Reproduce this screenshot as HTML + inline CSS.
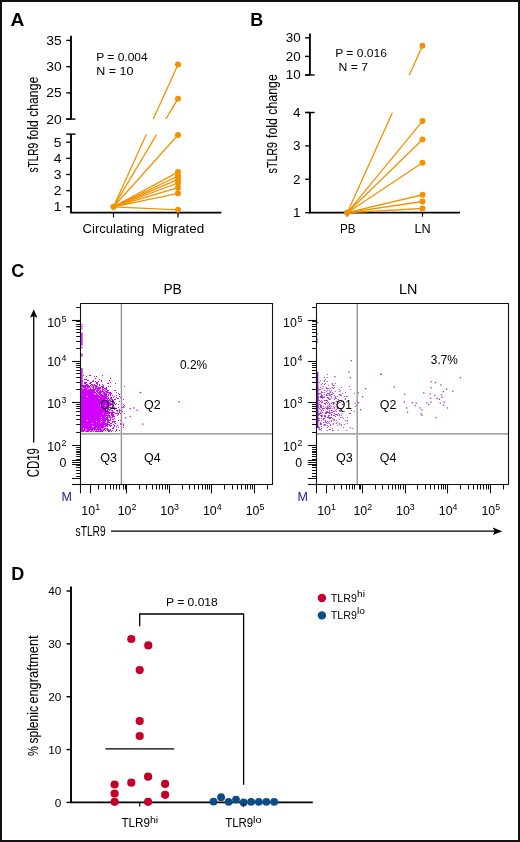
<!DOCTYPE html>
<html><head><meta charset="utf-8"><style>
html,body{margin:0;padding:0;background:#fff;}
body{width:520px;height:842px;overflow:hidden;position:relative;}
.frame{position:absolute;left:0;top:0;width:516px;height:838px;border:2px solid #111;}
svg{position:absolute;left:0;top:0;font-family:"Liberation Sans", sans-serif;will-change:transform;}
</style></head><body>
<svg width="520" height="842" viewBox="0 0 520 842">
<text x="10.5" y="26.2" font-size="19.2" text-anchor="start" font-weight="bold" fill="#000">A</text>
<line x1="71.00" y1="35.80" x2="71.00" y2="119.10" stroke="#000" stroke-width="1.9"/>
<line x1="66.30" y1="119.10" x2="75.50" y2="119.10" stroke="#000" stroke-width="1.4"/>
<line x1="66.30" y1="40.40" x2="71.00" y2="40.40" stroke="#000" stroke-width="1.4"/>
<text x="61.6" y="44.8" font-size="12.6" text-anchor="end" font-weight="normal" fill="#000" textLength="15.41" lengthAdjust="spacingAndGlyphs">35</text>
<line x1="66.30" y1="66.70" x2="71.00" y2="66.70" stroke="#000" stroke-width="1.4"/>
<text x="61.6" y="71.10000000000001" font-size="12.6" text-anchor="end" font-weight="normal" fill="#000" textLength="15.41" lengthAdjust="spacingAndGlyphs">30</text>
<line x1="66.30" y1="92.90" x2="71.00" y2="92.90" stroke="#000" stroke-width="1.4"/>
<text x="61.6" y="97.30000000000001" font-size="12.6" text-anchor="end" font-weight="normal" fill="#000" textLength="15.41" lengthAdjust="spacingAndGlyphs">25</text>
<line x1="66.30" y1="119.10" x2="71.00" y2="119.10" stroke="#000" stroke-width="1.4"/>
<text x="61.6" y="123.5" font-size="12.6" text-anchor="end" font-weight="normal" fill="#000" textLength="15.41" lengthAdjust="spacingAndGlyphs">20</text>
<line x1="71.00" y1="134.10" x2="71.00" y2="212.70" stroke="#000" stroke-width="1.9"/>
<line x1="66.30" y1="134.10" x2="75.50" y2="134.10" stroke="#000" stroke-width="1.4"/>
<line x1="66.30" y1="142.20" x2="71.00" y2="142.20" stroke="#000" stroke-width="1.4"/>
<text x="61.6" y="146.60000000000002" font-size="12.6" text-anchor="end" font-weight="normal" fill="#000" textLength="7.71" lengthAdjust="spacingAndGlyphs">5</text>
<line x1="66.30" y1="158.35" x2="71.00" y2="158.35" stroke="#000" stroke-width="1.4"/>
<text x="61.6" y="162.75000000000003" font-size="12.6" text-anchor="end" font-weight="normal" fill="#000" textLength="7.71" lengthAdjust="spacingAndGlyphs">4</text>
<line x1="66.30" y1="174.50" x2="71.00" y2="174.50" stroke="#000" stroke-width="1.4"/>
<text x="61.6" y="178.9" font-size="12.6" text-anchor="end" font-weight="normal" fill="#000" textLength="7.71" lengthAdjust="spacingAndGlyphs">3</text>
<line x1="66.30" y1="190.65" x2="71.00" y2="190.65" stroke="#000" stroke-width="1.4"/>
<text x="61.6" y="195.05" font-size="12.6" text-anchor="end" font-weight="normal" fill="#000" textLength="7.71" lengthAdjust="spacingAndGlyphs">2</text>
<line x1="66.30" y1="206.80" x2="71.00" y2="206.80" stroke="#000" stroke-width="1.4"/>
<text x="61.6" y="211.20000000000002" font-size="12.6" text-anchor="end" font-weight="normal" fill="#000" textLength="7.71" lengthAdjust="spacingAndGlyphs">1</text>
<line x1="70.10" y1="212.70" x2="221.30" y2="212.70" stroke="#000" stroke-width="1.8"/>
<line x1="113.50" y1="212.70" x2="113.50" y2="217.40" stroke="#000" stroke-width="1.2"/>
<line x1="178.00" y1="212.70" x2="178.00" y2="217.40" stroke="#000" stroke-width="1.2"/>
<text x="96.2" y="60.8" font-size="11.6" text-anchor="start" font-weight="normal" fill="#000" textLength="51.5" lengthAdjust="spacingAndGlyphs">P = 0.004</text>
<text x="96.2" y="75.1" font-size="11.6" text-anchor="start" font-weight="normal" fill="#000" textLength="37.2" lengthAdjust="spacingAndGlyphs">N = 10</text>
<text x="82.6" y="233.2" font-size="12.4" text-anchor="start" font-weight="normal" fill="#000" textLength="61.6" lengthAdjust="spacingAndGlyphs">Circulating</text>
<text x="152.0" y="233.2" font-size="12.4" text-anchor="start" font-weight="normal" fill="#000" textLength="52.2" lengthAdjust="spacingAndGlyphs">Migrated</text>
<text transform="translate(38.0,172.6) rotate(-90)" font-size="15" stroke="#000" stroke-width="0.1" textLength="29.8" lengthAdjust="spacingAndGlyphs">sTLR9</text>
<text transform="translate(38.0,139.8) rotate(-90)" font-size="15" stroke="#000" stroke-width="0.1" textLength="63.0" lengthAdjust="spacingAndGlyphs">fold change</text>
<clipPath id="cA"><rect x="60" y="30" width="170" height="89.1"/><rect x="60" y="134.4" width="170" height="90"/></clipPath>
<g clip-path="url(#cA)">
<line x1="113.50" y1="206.80" x2="178.00" y2="64.50" stroke="#F29200" stroke-width="1.3"/>
<line x1="113.50" y1="206.80" x2="178.00" y2="98.70" stroke="#F29200" stroke-width="1.3"/>
<line x1="113.50" y1="206.80" x2="178.00" y2="135.00" stroke="#F29200" stroke-width="1.3"/>
<line x1="113.50" y1="206.80" x2="178.00" y2="172.10" stroke="#F29200" stroke-width="1.3"/>
<line x1="113.50" y1="206.80" x2="178.00" y2="176.00" stroke="#F29200" stroke-width="1.3"/>
<line x1="113.50" y1="206.80" x2="178.00" y2="179.30" stroke="#F29200" stroke-width="1.3"/>
<line x1="113.50" y1="206.80" x2="178.00" y2="183.00" stroke="#F29200" stroke-width="1.3"/>
<line x1="113.50" y1="206.80" x2="178.00" y2="187.70" stroke="#F29200" stroke-width="1.3"/>
<line x1="113.50" y1="206.80" x2="178.00" y2="193.30" stroke="#F29200" stroke-width="1.3"/>
<line x1="113.50" y1="206.80" x2="178.00" y2="209.80" stroke="#F29200" stroke-width="1.3"/>
</g>
<circle cx="178.00" cy="64.50" r="3" fill="#F29200"/>
<circle cx="178.00" cy="98.70" r="3" fill="#F29200"/>
<circle cx="178.00" cy="135.00" r="3" fill="#F29200"/>
<circle cx="178.00" cy="172.10" r="3" fill="#F29200"/>
<circle cx="178.00" cy="176.00" r="3" fill="#F29200"/>
<circle cx="178.00" cy="179.30" r="3" fill="#F29200"/>
<circle cx="178.00" cy="183.00" r="3" fill="#F29200"/>
<circle cx="178.00" cy="187.70" r="3" fill="#F29200"/>
<circle cx="178.00" cy="193.30" r="3" fill="#F29200"/>
<circle cx="178.00" cy="209.80" r="3" fill="#F29200"/>
<circle cx="113.50" cy="206.80" r="3.1" fill="#F29200"/>
<text x="250.3" y="26.2" font-size="18" text-anchor="start" font-weight="bold" fill="#000">B</text>
<line x1="309.90" y1="33.50" x2="309.90" y2="75.00" stroke="#000" stroke-width="1.9"/>
<line x1="305.10" y1="75.00" x2="314.60" y2="75.00" stroke="#000" stroke-width="1.4"/>
<line x1="305.10" y1="37.80" x2="309.90" y2="37.80" stroke="#000" stroke-width="1.4"/>
<text x="300.6" y="42.099999999999994" font-size="12.2" text-anchor="end" font-weight="normal" fill="#000" textLength="14.92" lengthAdjust="spacingAndGlyphs">30</text>
<line x1="305.10" y1="56.40" x2="309.90" y2="56.40" stroke="#000" stroke-width="1.4"/>
<text x="300.6" y="60.699999999999996" font-size="12.2" text-anchor="end" font-weight="normal" fill="#000" textLength="14.92" lengthAdjust="spacingAndGlyphs">20</text>
<line x1="305.10" y1="75.00" x2="309.90" y2="75.00" stroke="#000" stroke-width="1.4"/>
<text x="300.6" y="79.3" font-size="12.2" text-anchor="end" font-weight="normal" fill="#000" textLength="14.92" lengthAdjust="spacingAndGlyphs">10</text>
<line x1="309.90" y1="112.50" x2="309.90" y2="212.70" stroke="#000" stroke-width="1.9"/>
<line x1="305.30" y1="112.50" x2="314.60" y2="112.50" stroke="#000" stroke-width="1.4"/>
<line x1="305.30" y1="112.50" x2="309.90" y2="112.50" stroke="#000" stroke-width="1.4"/>
<text x="300.6" y="116.8" font-size="12.2" text-anchor="end" font-weight="normal" fill="#000" textLength="7.46" lengthAdjust="spacingAndGlyphs">4</text>
<line x1="305.30" y1="145.90" x2="309.90" y2="145.90" stroke="#000" stroke-width="1.4"/>
<text x="300.6" y="150.2" font-size="12.2" text-anchor="end" font-weight="normal" fill="#000" textLength="7.46" lengthAdjust="spacingAndGlyphs">3</text>
<line x1="305.30" y1="179.30" x2="309.90" y2="179.30" stroke="#000" stroke-width="1.4"/>
<text x="300.6" y="183.6" font-size="12.2" text-anchor="end" font-weight="normal" fill="#000" textLength="7.46" lengthAdjust="spacingAndGlyphs">2</text>
<line x1="305.30" y1="212.70" x2="309.90" y2="212.70" stroke="#000" stroke-width="1.4"/>
<text x="300.6" y="217.0" font-size="12.2" text-anchor="end" font-weight="normal" fill="#000" textLength="7.46" lengthAdjust="spacingAndGlyphs">1</text>
<line x1="309.00" y1="212.70" x2="460.00" y2="212.70" stroke="#000" stroke-width="1.8"/>
<line x1="347.30" y1="212.70" x2="347.30" y2="216.60" stroke="#000" stroke-width="1.2"/>
<line x1="422.50" y1="212.70" x2="422.50" y2="216.60" stroke="#000" stroke-width="1.2"/>
<text x="335.2" y="56.5" font-size="11.6" text-anchor="start" font-weight="normal" fill="#000" textLength="51.8" lengthAdjust="spacingAndGlyphs">P = 0.016</text>
<text x="338.6" y="71.2" font-size="11.6" text-anchor="start" font-weight="normal" fill="#000" textLength="29.5" lengthAdjust="spacingAndGlyphs">N = 7</text>
<text x="340.0" y="232.8" font-size="12.4" text-anchor="start" font-weight="normal" fill="#000" textLength="15.6" lengthAdjust="spacingAndGlyphs">PB</text>
<text x="414.4" y="232.8" font-size="12.4" text-anchor="start" font-weight="normal" fill="#000" textLength="16.2" lengthAdjust="spacingAndGlyphs">LN</text>
<text transform="translate(277.0,173.4) rotate(-90)" font-size="15" stroke="#000" stroke-width="0.1" textLength="31.4" lengthAdjust="spacingAndGlyphs">sTLR9</text>
<text transform="translate(277.0,138.0) rotate(-90)" font-size="15" stroke="#000" stroke-width="0.1" textLength="63.8" lengthAdjust="spacingAndGlyphs">fold change</text>
<clipPath id="cB"><rect x="300" y="30" width="170" height="45"/><rect x="300" y="112.8" width="170" height="110"/></clipPath>
<g clip-path="url(#cB)">
<line x1="347.30" y1="212.70" x2="422.50" y2="45.70" stroke="#F29200" stroke-width="1.3"/>
<line x1="347.30" y1="212.70" x2="422.50" y2="121.10" stroke="#F29200" stroke-width="1.3"/>
<line x1="347.30" y1="212.70" x2="422.50" y2="139.50" stroke="#F29200" stroke-width="1.3"/>
<line x1="347.30" y1="212.70" x2="422.50" y2="162.75" stroke="#F29200" stroke-width="1.3"/>
<line x1="347.30" y1="212.70" x2="422.50" y2="194.75" stroke="#F29200" stroke-width="1.3"/>
<line x1="347.30" y1="212.70" x2="422.50" y2="201.50" stroke="#F29200" stroke-width="1.3"/>
<line x1="347.30" y1="212.70" x2="422.50" y2="208.50" stroke="#F29200" stroke-width="1.3"/>
</g>
<circle cx="422.50" cy="45.70" r="3" fill="#F29200"/>
<circle cx="422.50" cy="121.10" r="3" fill="#F29200"/>
<circle cx="422.50" cy="139.50" r="3" fill="#F29200"/>
<circle cx="422.50" cy="162.75" r="3" fill="#F29200"/>
<circle cx="422.50" cy="194.75" r="3" fill="#F29200"/>
<circle cx="422.50" cy="201.50" r="3" fill="#F29200"/>
<circle cx="422.50" cy="208.50" r="3" fill="#F29200"/>
<circle cx="347.30" cy="212.70" r="3.1" fill="#F29200"/>
<text x="11.2" y="276.5" font-size="18" text-anchor="start" font-weight="bold" fill="#000">C</text>
<g clip-path="url(#box0)"><clipPath id="box0"><rect x="81.10" y="303.50" width="191.50" height="180.70"/></clipPath><rect x="81.1" y="368" width="1.5" height="64" fill="#D200FF"/>
<rect x="81.1" y="324" width="1.5" height="1.2" fill="#D200FF"/>
<rect x="81.1" y="326.2" width="1.5" height="1.2" fill="#D200FF"/>
<rect x="81.1" y="328.4" width="1.5" height="1.2" fill="#D200FF"/>
<rect x="81.1" y="332.5" width="1.5" height="13.2" fill="#D200FF"/>
<rect x="81.1" y="347" width="1.5" height="1.2" fill="#D200FF"/>
<rect x="81.1" y="353.6" width="1.5" height="2.8" fill="#D200FF"/>
<path d="M83.0 375h1v1h-1zM89.0 375h2v1h-2zM102.0 375h1v1h-1zM86.0 376h1v1h-1zM94.0 376h1v1h-1zM96.0 376h1v1h-1zM95.0 378h1v1h-1zM110.0 378h1v1h-1zM84.0 379h3v1h-3zM99.0 379h1v1h-1zM87.0 380h2v1h-2zM93.0 380h1v1h-1zM101.0 380h1v1h-1zM109.0 380h1v1h-1zM81.0 381h2v1h-2zM92.0 381h2v1h-2zM95.0 381h1v1h-1zM98.0 381h1v1h-1zM101.0 381h1v1h-1zM84.0 382h3v1h-3zM90.0 382h2v1h-2zM96.0 382h2v1h-2zM110.0 382h1v1h-1zM81.0 383h1v1h-1zM84.0 383h2v1h-2zM89.0 383h2v1h-2zM96.0 383h2v1h-2zM107.0 383h2v1h-2zM115.0 383h1v1h-1zM86.0 384h2v1h-2zM91.0 384h2v1h-2zM94.0 384h1v1h-1zM97.0 384h1v1h-1zM99.0 384h1v1h-1zM102.0 384h1v1h-1zM81.0 385h8v1h-8zM90.0 385h1v1h-1zM92.0 385h5v1h-5zM99.0 385h1v1h-1zM103.0 385h1v1h-1zM81.0 386h9v1h-9zM91.0 386h1v1h-1zM93.0 386h1v1h-1zM95.0 386h3v1h-3zM101.0 386h3v1h-3zM108.0 386h1v1h-1zM110.0 386h1v1h-1zM124.0 386h1v1h-1zM83.0 387h3v1h-3zM87.0 387h3v1h-3zM92.0 387h2v1h-2zM95.0 387h2v1h-2zM98.0 387h3v1h-3zM102.0 387h2v1h-2zM106.0 387h1v1h-1zM81.0 388h1v1h-1zM84.0 388h4v1h-4zM90.0 388h1v1h-1zM93.0 388h1v1h-1zM95.0 388h6v1h-6zM102.0 388h1v1h-1zM104.0 388h3v1h-3zM81.0 389h6v1h-6zM88.0 389h8v1h-8zM97.0 389h3v1h-3zM102.0 389h2v1h-2zM105.0 389h2v1h-2zM81.0 390h14v1h-14zM96.0 390h3v1h-3zM100.0 390h1v1h-1zM102.0 390h1v1h-1zM104.0 390h1v1h-1zM107.0 390h2v1h-2zM114.0 390h2v1h-2zM82.0 391h13v1h-13zM96.0 391h2v1h-2zM99.0 391h5v1h-5zM105.0 391h3v1h-3zM81.0 392h15v1h-15zM97.0 392h5v1h-5zM103.0 392h2v1h-2zM106.0 392h5v1h-5zM116.0 392h1v1h-1zM81.0 393h13v1h-13zM95.0 393h2v1h-2zM98.0 393h3v1h-3zM103.0 393h4v1h-4zM109.0 393h3v1h-3zM118.0 393h1v1h-1zM81.0 394h14v1h-14zM96.0 394h2v1h-2zM99.0 394h4v1h-4zM104.0 394h3v1h-3zM108.0 394h1v1h-1zM110.0 394h1v1h-1zM119.0 394h1v1h-1zM81.0 395h18v1h-18zM100.0 395h7v1h-7zM108.0 395h1v1h-1zM110.0 395h1v1h-1zM112.0 395h1v1h-1zM116.0 395h1v1h-1zM81.0 396h6v1h-6zM88.0 396h20v1h-20zM114.0 396h1v1h-1zM119.0 396h1v1h-1zM81.0 397h26v1h-26zM108.0 397h1v1h-1zM110.0 397h2v1h-2zM113.0 397h1v1h-1zM116.0 397h1v1h-1zM120.0 397h2v1h-2zM81.0 398h18v1h-18zM100.0 398h9v1h-9zM110.0 398h2v1h-2zM117.0 398h2v1h-2zM81.0 399h25v1h-25zM107.0 399h1v1h-1zM109.0 399h1v1h-1zM111.0 399h2v1h-2zM114.0 399h2v1h-2zM121.0 399h1v1h-1zM123.0 399h1v1h-1zM81.0 400h24v1h-24zM106.0 400h5v1h-5zM81.0 401h28v1h-28zM110.0 401h1v1h-1zM112.0 401h2v1h-2zM119.0 401h1v1h-1zM81.0 402h29v1h-29zM112.0 402h1v1h-1zM114.0 402h1v1h-1zM81.0 403h27v1h-27zM109.0 403h3v1h-3zM114.0 403h1v1h-1zM116.0 403h1v1h-1zM81.0 404h32v1h-32zM115.0 404h1v1h-1zM118.0 404h1v1h-1zM123.0 404h1v1h-1zM81.0 405h19v1h-19zM101.0 405h4v1h-4zM106.0 405h5v1h-5zM113.0 405h1v1h-1zM124.0 405h1v1h-1zM81.0 406h28v1h-28zM112.0 406h1v1h-1zM121.0 406h1v1h-1zM123.0 406h1v1h-1zM81.0 407h26v1h-26zM108.0 407h5v1h-5zM114.0 407h1v1h-1zM118.0 407h1v1h-1zM121.0 407h2v1h-2zM81.0 408h28v1h-28zM111.0 408h6v1h-6zM81.0 409h25v1h-25zM107.0 409h4v1h-4zM114.0 409h1v1h-1zM119.0 409h1v1h-1zM81.0 410h27v1h-27zM109.0 410h1v1h-1zM111.0 410h2v1h-2zM116.0 410h2v1h-2zM119.0 410h2v1h-2zM81.0 411h28v1h-28zM112.0 411h1v1h-1zM117.0 411h1v1h-1zM119.0 411h1v1h-1zM122.0 411h1v1h-1zM81.0 412h34v1h-34zM119.0 412h1v1h-1zM81.0 413h22v1h-22zM104.0 413h6v1h-6zM111.0 413h2v1h-2zM115.0 413h4v1h-4zM120.0 413h1v1h-1zM124.0 413h1v1h-1zM81.0 414h26v1h-26zM108.0 414h1v1h-1zM111.0 414h3v1h-3zM118.0 414h1v1h-1zM81.0 415h29v1h-29zM111.0 415h3v1h-3zM117.0 415h1v1h-1zM81.0 416h25v1h-25zM107.0 416h1v1h-1zM109.0 416h2v1h-2zM112.0 416h3v1h-3zM81.0 417h20v1h-20zM102.0 417h3v1h-3zM106.0 417h4v1h-4zM111.0 417h2v1h-2zM121.0 417h1v1h-1zM81.0 418h27v1h-27zM110.0 418h1v1h-1zM114.0 418h1v1h-1zM81.0 419h20v1h-20zM102.0 419h7v1h-7zM110.0 419h1v1h-1zM112.0 419h2v1h-2zM81.0 420h6v1h-6zM88.0 420h18v1h-18zM107.0 420h4v1h-4zM118.0 420h1v1h-1zM120.0 420h1v1h-1zM81.0 421h15v1h-15zM97.0 421h4v1h-4zM102.0 421h4v1h-4zM107.0 421h2v1h-2zM112.0 421h4v1h-4zM81.0 422h19v1h-19zM101.0 422h4v1h-4zM107.0 422h3v1h-3zM112.0 422h1v1h-1zM114.0 422h1v1h-1zM121.0 422h1v1h-1zM81.0 423h11v1h-11zM93.0 423h15v1h-15zM110.0 423h2v1h-2zM115.0 423h1v1h-1zM120.0 423h1v1h-1zM81.0 424h29v1h-29zM113.0 424h1v1h-1zM120.0 424h1v1h-1zM123.0 424h1v1h-1zM81.0 425h23v1h-23zM105.0 425h3v1h-3zM109.0 425h3v1h-3zM114.0 425h1v1h-1zM117.0 425h1v1h-1zM123.0 425h1v1h-1zM81.0 426h11v1h-11zM94.0 426h12v1h-12zM107.0 426h1v1h-1zM110.0 426h1v1h-1zM114.0 426h1v1h-1zM116.0 426h1v1h-1zM81.0 427h23v1h-23zM113.0 427h1v1h-1zM118.0 427h1v1h-1zM123.0 427h1v1h-1zM82.0 428h1v1h-1zM84.0 428h12v1h-12zM97.0 428h4v1h-4zM102.0 428h1v1h-1zM104.0 428h4v1h-4zM112.0 428h2v1h-2zM81.0 429h5v1h-5zM87.0 429h15v1h-15zM103.0 429h2v1h-2zM107.0 429h2v1h-2zM110.0 429h1v1h-1zM116.0 429h1v1h-1zM82.0 430h3v1h-3zM86.0 430h4v1h-4zM91.0 430h2v1h-2zM94.0 430h1v1h-1zM96.0 430h1v1h-1zM98.0 430h1v1h-1zM100.0 430h4v1h-4zM105.0 430h1v1h-1zM107.0 430h4v1h-4zM112.0 430h1v1h-1zM116.0 430h1v1h-1zM119.0 430h1v1h-1zM82.0 431h2v1h-2zM85.0 431h4v1h-4zM90.0 431h2v1h-2zM93.0 431h1v1h-1zM95.0 431h8v1h-8zM108.0 431h2v1h-2zM111.0 431h1v1h-1zM115.0 431h1v1h-1z" fill="#D200FF"/>
<rect x="140.0" y="391.8" width="1.3" height="1.3" fill="#D200FF"/>
<rect x="123.2" y="406.6" width="1.3" height="1.3" fill="#D200FF"/>
<rect x="129.6" y="408.0" width="1.3" height="1.3" fill="#D200FF"/>
<rect x="133.1" y="407.3" width="1.3" height="1.3" fill="#D200FF"/>
<rect x="136.5" y="409.6" width="1.3" height="1.3" fill="#D200FF"/>
<rect x="125.0" y="417.2" width="1.3" height="1.3" fill="#D200FF"/>
<rect x="129.6" y="415.8" width="1.3" height="1.3" fill="#D200FF"/>
<rect x="142.3" y="423.5" width="1.3" height="1.3" fill="#D200FF"/>
<rect x="178.5" y="401.1" width="1.3" height="1.3" fill="#D200FF"/>
<rect x="122.7" y="423.5" width="1.3" height="1.3" fill="#D200FF"/>
<rect x="139.6" y="392.0" width="1.3" height="1.3" fill="#D200FF"/></g>
<line x1="121.40" y1="303.50" x2="121.40" y2="484.20" stroke="#969696" stroke-width="1.4"/>
<line x1="80.80" y1="433.90" x2="272.60" y2="433.90" stroke="#a8a8a8" stroke-width="1.8"/>
<line x1="80.30" y1="303.50" x2="273.10" y2="303.50" stroke="#111" stroke-width="1.1"/>
<line x1="80.30" y1="484.50" x2="273.10" y2="484.50" stroke="#111" stroke-width="1.1"/>
<line x1="80.50" y1="303.50" x2="80.50" y2="484.20" stroke="#111" stroke-width="1.1"/>
<line x1="272.50" y1="303.50" x2="272.50" y2="484.20" stroke="#111" stroke-width="1.1"/>
<line x1="72.00" y1="320.50" x2="80.80" y2="320.50" stroke="#111" stroke-width="1.1"/>
<text x="61.00" y="327.10" font-size="12.4" text-anchor="end" fill="#000">10</text>
<text x="61.60" y="321.80" font-size="8.8" text-anchor="start" fill="#000">5</text>
<line x1="72.00" y1="361.50" x2="80.80" y2="361.50" stroke="#111" stroke-width="1.1"/>
<text x="61.00" y="366.00" font-size="12.4" text-anchor="end" fill="#000">10</text>
<text x="61.60" y="360.70" font-size="8.8" text-anchor="start" fill="#000">4</text>
<line x1="72.00" y1="402.50" x2="80.80" y2="402.50" stroke="#111" stroke-width="1.1"/>
<text x="61.00" y="408.00" font-size="12.4" text-anchor="end" fill="#000">10</text>
<text x="61.60" y="402.70" font-size="8.8" text-anchor="start" fill="#000">3</text>
<line x1="72.00" y1="445.50" x2="80.80" y2="445.50" stroke="#111" stroke-width="1.1"/>
<text x="61.00" y="451.00" font-size="12.4" text-anchor="end" fill="#000">10</text>
<text x="61.60" y="445.70" font-size="8.8" text-anchor="start" fill="#000">2</text>
<text x="66.30" y="466.50" font-size="12.4" text-anchor="end" fill="#000">0</text>
<line x1="72.00" y1="460.50" x2="80.80" y2="460.50" stroke="#111" stroke-width="1.0"/>
<line x1="72.00" y1="462.50" x2="80.80" y2="462.50" stroke="#111" stroke-width="1.0"/>
<line x1="72.00" y1="464.50" x2="80.80" y2="464.50" stroke="#111" stroke-width="1.0"/>
<line x1="72.00" y1="484.50" x2="80.80" y2="484.50" stroke="#111" stroke-width="1.1"/>
<line x1="76.20" y1="307.50" x2="80.80" y2="307.50" stroke="#111" stroke-width="1.0"/>
<line x1="76.20" y1="348.50" x2="80.80" y2="348.50" stroke="#111" stroke-width="1.0"/>
<line x1="76.20" y1="389.50" x2="80.80" y2="389.50" stroke="#111" stroke-width="1.0"/>
<line x1="76.20" y1="432.50" x2="80.80" y2="432.50" stroke="#111" stroke-width="1.0"/>
<line x1="76.20" y1="341.50" x2="80.80" y2="341.50" stroke="#111" stroke-width="1.0"/>
<line x1="76.20" y1="382.50" x2="80.80" y2="382.50" stroke="#111" stroke-width="1.0"/>
<line x1="76.20" y1="424.50" x2="80.80" y2="424.50" stroke="#111" stroke-width="1.0"/>
<line x1="76.20" y1="336.50" x2="80.80" y2="336.50" stroke="#111" stroke-width="1.0"/>
<line x1="76.20" y1="377.50" x2="80.80" y2="377.50" stroke="#111" stroke-width="1.0"/>
<line x1="76.20" y1="419.50" x2="80.80" y2="419.50" stroke="#111" stroke-width="1.0"/>
<line x1="76.20" y1="332.50" x2="80.80" y2="332.50" stroke="#111" stroke-width="1.0"/>
<line x1="76.20" y1="373.50" x2="80.80" y2="373.50" stroke="#111" stroke-width="1.0"/>
<line x1="76.20" y1="415.50" x2="80.80" y2="415.50" stroke="#111" stroke-width="1.0"/>
<line x1="76.20" y1="329.50" x2="80.80" y2="329.50" stroke="#111" stroke-width="1.0"/>
<line x1="76.20" y1="370.50" x2="80.80" y2="370.50" stroke="#111" stroke-width="1.0"/>
<line x1="76.20" y1="411.50" x2="80.80" y2="411.50" stroke="#111" stroke-width="1.0"/>
<line x1="76.20" y1="326.50" x2="80.80" y2="326.50" stroke="#111" stroke-width="1.0"/>
<line x1="76.20" y1="367.50" x2="80.80" y2="367.50" stroke="#111" stroke-width="1.0"/>
<line x1="76.20" y1="408.50" x2="80.80" y2="408.50" stroke="#111" stroke-width="1.0"/>
<line x1="76.20" y1="324.50" x2="80.80" y2="324.50" stroke="#111" stroke-width="1.0"/>
<line x1="76.20" y1="365.50" x2="80.80" y2="365.50" stroke="#111" stroke-width="1.0"/>
<line x1="76.20" y1="406.50" x2="80.80" y2="406.50" stroke="#111" stroke-width="1.0"/>
<line x1="76.20" y1="321.50" x2="80.80" y2="321.50" stroke="#111" stroke-width="1.0"/>
<line x1="76.20" y1="363.50" x2="80.80" y2="363.50" stroke="#111" stroke-width="1.0"/>
<line x1="76.20" y1="404.50" x2="80.80" y2="404.50" stroke="#111" stroke-width="1.0"/>
<line x1="76.20" y1="447.50" x2="80.80" y2="447.50" stroke="#111" stroke-width="1.0"/>
<line x1="76.20" y1="449.50" x2="80.80" y2="449.50" stroke="#111" stroke-width="1.0"/>
<line x1="76.20" y1="451.50" x2="80.80" y2="451.50" stroke="#111" stroke-width="1.0"/>
<line x1="76.20" y1="452.50" x2="80.80" y2="452.50" stroke="#111" stroke-width="1.0"/>
<line x1="76.20" y1="454.50" x2="80.80" y2="454.50" stroke="#111" stroke-width="1.0"/>
<line x1="76.20" y1="456.50" x2="80.80" y2="456.50" stroke="#111" stroke-width="1.0"/>
<line x1="76.20" y1="459.50" x2="80.80" y2="459.50" stroke="#111" stroke-width="1.0"/>
<line x1="76.20" y1="465.50" x2="80.80" y2="465.50" stroke="#111" stroke-width="1.0"/>
<line x1="76.20" y1="467.50" x2="80.80" y2="467.50" stroke="#111" stroke-width="1.0"/>
<line x1="76.20" y1="470.50" x2="80.80" y2="470.50" stroke="#111" stroke-width="1.0"/>
<line x1="76.20" y1="473.50" x2="80.80" y2="473.50" stroke="#111" stroke-width="1.0"/>
<line x1="76.20" y1="476.50" x2="80.80" y2="476.50" stroke="#111" stroke-width="1.0"/>
<line x1="72.00" y1="478.50" x2="80.80" y2="478.50" stroke="#111" stroke-width="1.0"/>
<line x1="80.50" y1="484.20" x2="80.50" y2="493.40" stroke="#111" stroke-width="1.1"/>
<line x1="90.50" y1="484.20" x2="90.50" y2="493.40" stroke="#111" stroke-width="1.1"/>
<text x="90.70" y="514.8" font-size="12.4" text-anchor="middle">10<tspan dy="-4.9" font-size="8.8">1</tspan></text>
<line x1="126.50" y1="484.20" x2="126.50" y2="493.40" stroke="#111" stroke-width="1.1"/>
<text x="127.00" y="514.8" font-size="12.4" text-anchor="middle">10<tspan dy="-4.9" font-size="8.8">2</tspan></text>
<line x1="169.50" y1="484.20" x2="169.50" y2="493.40" stroke="#111" stroke-width="1.1"/>
<text x="169.60" y="514.8" font-size="12.4" text-anchor="middle">10<tspan dy="-4.9" font-size="8.8">3</tspan></text>
<line x1="211.50" y1="484.20" x2="211.50" y2="493.40" stroke="#111" stroke-width="1.1"/>
<text x="212.30" y="514.8" font-size="12.4" text-anchor="middle">10<tspan dy="-4.9" font-size="8.8">4</tspan></text>
<line x1="254.50" y1="484.20" x2="254.50" y2="493.40" stroke="#111" stroke-width="1.1"/>
<text x="255.00" y="514.8" font-size="12.4" text-anchor="middle">10<tspan dy="-4.9" font-size="8.8">5</tspan></text>
<line x1="98.50" y1="484.20" x2="98.50" y2="489.50" stroke="#111" stroke-width="1.0"/>
<line x1="105.50" y1="484.20" x2="105.50" y2="489.50" stroke="#111" stroke-width="1.0"/>
<line x1="110.50" y1="484.20" x2="110.50" y2="489.50" stroke="#111" stroke-width="1.0"/>
<line x1="113.50" y1="484.20" x2="113.50" y2="489.50" stroke="#111" stroke-width="1.0"/>
<line x1="116.50" y1="484.20" x2="116.50" y2="489.50" stroke="#111" stroke-width="1.0"/>
<line x1="119.50" y1="484.20" x2="119.50" y2="489.50" stroke="#111" stroke-width="1.0"/>
<line x1="123.50" y1="484.20" x2="123.50" y2="489.50" stroke="#111" stroke-width="1.0"/>
<line x1="125.50" y1="484.20" x2="125.50" y2="489.50" stroke="#111" stroke-width="1.0"/>
<line x1="139.50" y1="484.20" x2="139.50" y2="489.50" stroke="#111" stroke-width="1.0"/>
<line x1="146.50" y1="484.20" x2="146.50" y2="489.50" stroke="#111" stroke-width="1.0"/>
<line x1="152.50" y1="484.20" x2="152.50" y2="489.50" stroke="#111" stroke-width="1.0"/>
<line x1="156.50" y1="484.20" x2="156.50" y2="489.50" stroke="#111" stroke-width="1.0"/>
<line x1="159.50" y1="484.20" x2="159.50" y2="489.50" stroke="#111" stroke-width="1.0"/>
<line x1="162.50" y1="484.20" x2="162.50" y2="489.50" stroke="#111" stroke-width="1.0"/>
<line x1="165.50" y1="484.20" x2="165.50" y2="489.50" stroke="#111" stroke-width="1.0"/>
<line x1="167.50" y1="484.20" x2="167.50" y2="489.50" stroke="#111" stroke-width="1.0"/>
<line x1="182.50" y1="484.20" x2="182.50" y2="489.50" stroke="#111" stroke-width="1.0"/>
<line x1="189.50" y1="484.20" x2="189.50" y2="489.50" stroke="#111" stroke-width="1.0"/>
<line x1="194.50" y1="484.20" x2="194.50" y2="489.50" stroke="#111" stroke-width="1.0"/>
<line x1="198.50" y1="484.20" x2="198.50" y2="489.50" stroke="#111" stroke-width="1.0"/>
<line x1="202.50" y1="484.20" x2="202.50" y2="489.50" stroke="#111" stroke-width="1.0"/>
<line x1="205.50" y1="484.20" x2="205.50" y2="489.50" stroke="#111" stroke-width="1.0"/>
<line x1="207.50" y1="484.20" x2="207.50" y2="489.50" stroke="#111" stroke-width="1.0"/>
<line x1="209.50" y1="484.20" x2="209.50" y2="489.50" stroke="#111" stroke-width="1.0"/>
<line x1="224.50" y1="484.20" x2="224.50" y2="489.50" stroke="#111" stroke-width="1.0"/>
<line x1="232.50" y1="484.20" x2="232.50" y2="489.50" stroke="#111" stroke-width="1.0"/>
<line x1="237.50" y1="484.20" x2="237.50" y2="489.50" stroke="#111" stroke-width="1.0"/>
<line x1="241.50" y1="484.20" x2="241.50" y2="489.50" stroke="#111" stroke-width="1.0"/>
<line x1="245.50" y1="484.20" x2="245.50" y2="489.50" stroke="#111" stroke-width="1.0"/>
<line x1="247.50" y1="484.20" x2="247.50" y2="489.50" stroke="#111" stroke-width="1.0"/>
<line x1="250.50" y1="484.20" x2="250.50" y2="489.50" stroke="#111" stroke-width="1.0"/>
<line x1="252.50" y1="484.20" x2="252.50" y2="489.50" stroke="#111" stroke-width="1.0"/>
<line x1="267.50" y1="484.20" x2="267.50" y2="489.50" stroke="#111" stroke-width="1.0"/>
<text x="61.60" y="501.40" font-size="12.2" text-anchor="start" fill="#2E1490" textLength="10.4" lengthAdjust="spacingAndGlyphs">M</text>
<text x="100.20" y="409.00" font-size="12" text-anchor="start" fill="#000" textLength="16.0" lengthAdjust="spacingAndGlyphs">Q1</text>
<text x="144.00" y="409.00" font-size="12" text-anchor="start" fill="#000" textLength="16.6" lengthAdjust="spacingAndGlyphs">Q2</text>
<text x="100.20" y="461.50" font-size="12" text-anchor="start" fill="#000" textLength="16.8" lengthAdjust="spacingAndGlyphs">Q3</text>
<text x="144.00" y="461.50" font-size="12" text-anchor="start" fill="#000" textLength="16.6" lengthAdjust="spacingAndGlyphs">Q4</text>
<text x="180.00" y="368.80" font-size="12" text-anchor="start" fill="#000" textLength="27.0" lengthAdjust="spacingAndGlyphs">0.2%</text>
<text x="163.40" y="293.80" font-size="14" text-anchor="start" fill="#000" textLength="18.4" lengthAdjust="spacingAndGlyphs">PB</text>
<g clip-path="url(#box235)"><clipPath id="box235"><rect x="316.90" y="303.50" width="191.50" height="180.70"/></clipPath><rect x="316.9" y="372" width="1.4" height="56" fill="#7414A8"/>
<rect x="316.9" y="322" width="1.3" height="1.3" fill="#A432CC"/>
<rect x="316.9" y="333.6" width="1.3" height="1.3" fill="#A432CC"/>
<rect x="316.9" y="338.5" width="1.3" height="1.3" fill="#A432CC"/>
<rect x="316.9" y="341.3" width="1.3" height="1.3" fill="#A432CC"/>
<path d="M326.8 374h1v1h-1zM323.8 377h1v1h-1zM326.8 377h1v1h-1zM324.8 379h1v1h-1zM319.8 380h1v1h-1zM323.8 380h1v1h-1zM323.8 381h1v1h-1zM326.8 381h1v1h-1zM318.8 382h1v1h-1zM321.8 383h1v1h-1zM324.8 383h1v1h-1zM331.8 383h1v1h-1zM334.8 383h1v1h-1zM320.8 384h1v1h-1zM323.8 384h1v1h-1zM331.8 384h1v1h-1zM327.8 385h1v1h-1zM332.8 385h2v1h-2zM322.8 386h1v1h-1zM348.8 386h1v1h-1zM319.8 387h1v1h-1zM325.8 387h1v1h-1zM331.8 387h1v1h-1zM333.8 387h1v1h-1zM340.8 387h1v1h-1zM317.8 388h1v1h-1zM321.8 388h1v1h-1zM325.8 388h3v1h-3zM329.8 388h1v1h-1zM332.8 388h1v1h-1zM318.8 389h2v1h-2zM338.8 389h1v1h-1zM349.8 389h1v1h-1zM317.8 390h1v1h-1zM323.8 390h1v1h-1zM326.8 390h1v1h-1zM328.8 390h1v1h-1zM330.8 390h1v1h-1zM339.8 390h1v1h-1zM320.8 391h1v1h-1zM325.8 391h1v1h-1zM329.8 391h1v1h-1zM334.8 391h1v1h-1zM338.8 391h1v1h-1zM320.8 392h2v1h-2zM323.8 392h1v1h-1zM329.8 392h1v1h-1zM331.8 392h1v1h-1zM344.8 392h1v1h-1zM317.8 393h3v1h-3zM326.8 393h3v1h-3zM332.8 393h1v1h-1zM341.8 393h1v1h-1zM353.8 393h1v1h-1zM317.8 394h1v1h-1zM320.8 394h1v1h-1zM323.8 394h1v1h-1zM325.8 394h1v1h-1zM328.8 394h1v1h-1zM330.8 394h2v1h-2zM338.8 394h2v1h-2zM320.8 395h2v1h-2zM325.8 395h2v1h-2zM328.8 395h2v1h-2zM333.8 395h1v1h-1zM339.8 395h2v1h-2zM317.8 396h1v1h-1zM319.8 396h3v1h-3zM323.8 396h1v1h-1zM330.8 396h1v1h-1zM334.8 396h1v1h-1zM336.8 396h1v1h-1zM343.8 396h1v1h-1zM345.8 396h2v1h-2zM317.8 397h1v1h-1zM319.8 397h5v1h-5zM326.8 397h2v1h-2zM330.8 397h1v1h-1zM334.8 397h1v1h-1zM317.8 398h1v1h-1zM321.8 398h1v1h-1zM327.8 398h2v1h-2zM334.8 398h2v1h-2zM344.8 398h1v1h-1zM317.8 399h1v1h-1zM328.8 399h2v1h-2zM333.8 399h1v1h-1zM337.8 399h1v1h-1zM344.8 399h1v1h-1zM317.8 400h2v1h-2zM320.8 400h1v1h-1zM323.8 400h4v1h-4zM347.8 400h1v1h-1zM319.8 401h1v1h-1zM321.8 401h1v1h-1zM326.8 401h1v1h-1zM335.8 401h2v1h-2zM340.8 401h1v1h-1zM342.8 401h1v1h-1zM318.8 402h1v1h-1zM320.8 402h2v1h-2zM325.8 402h1v1h-1zM327.8 402h1v1h-1zM331.8 402h3v1h-3zM338.8 402h2v1h-2zM317.8 403h1v1h-1zM323.8 403h2v1h-2zM326.8 403h1v1h-1zM328.8 403h1v1h-1zM330.8 403h1v1h-1zM332.8 403h2v1h-2zM337.8 403h1v1h-1zM354.8 403h1v1h-1zM318.8 404h2v1h-2zM324.8 404h1v1h-1zM328.8 404h1v1h-1zM332.8 404h1v1h-1zM335.8 404h1v1h-1zM341.8 404h2v1h-2zM319.8 405h2v1h-2zM327.8 405h1v1h-1zM329.8 405h1v1h-1zM355.8 405h1v1h-1zM317.8 406h1v1h-1zM319.8 406h2v1h-2zM322.8 406h1v1h-1zM326.8 406h1v1h-1zM328.8 406h1v1h-1zM330.8 406h1v1h-1zM332.8 406h1v1h-1zM335.8 406h1v1h-1zM354.8 406h1v1h-1zM317.8 407h1v1h-1zM319.8 407h2v1h-2zM324.8 407h1v1h-1zM326.8 407h2v1h-2zM329.8 407h1v1h-1zM333.8 407h1v1h-1zM336.8 407h2v1h-2zM318.8 408h1v1h-1zM321.8 408h3v1h-3zM325.8 408h5v1h-5zM331.8 408h1v1h-1zM333.8 408h1v1h-1zM336.8 408h2v1h-2zM341.8 408h1v1h-1zM319.8 409h1v1h-1zM321.8 409h1v1h-1zM326.8 409h1v1h-1zM335.8 409h1v1h-1zM320.8 410h1v1h-1zM322.8 410h1v1h-1zM328.8 410h1v1h-1zM330.8 410h2v1h-2zM334.8 410h1v1h-1zM338.8 410h2v1h-2zM350.8 410h1v1h-1zM317.8 411h1v1h-1zM320.8 411h1v1h-1zM325.8 411h2v1h-2zM328.8 411h1v1h-1zM332.8 411h2v1h-2zM335.8 411h1v1h-1zM339.8 411h1v1h-1zM343.8 411h1v1h-1zM353.8 411h1v1h-1zM319.8 412h1v1h-1zM321.8 412h1v1h-1zM324.8 412h5v1h-5zM330.8 412h2v1h-2zM317.8 413h4v1h-4zM324.8 413h2v1h-2zM328.8 413h2v1h-2zM333.8 413h1v1h-1zM337.8 413h1v1h-1zM341.8 413h1v1h-1zM348.8 413h2v1h-2zM317.8 414h2v1h-2zM330.8 414h1v1h-1zM334.8 414h3v1h-3zM338.8 414h1v1h-1zM317.8 415h1v1h-1zM319.8 415h3v1h-3zM323.8 415h2v1h-2zM327.8 415h2v1h-2zM330.8 415h1v1h-1zM332.8 415h2v1h-2zM336.8 415h1v1h-1zM338.8 415h1v1h-1zM340.8 415h1v1h-1zM320.8 416h2v1h-2zM323.8 416h2v1h-2zM327.8 416h1v1h-1zM334.8 416h1v1h-1zM324.8 417h1v1h-1zM326.8 417h5v1h-5zM339.8 417h1v1h-1zM341.8 417h1v1h-1zM346.8 417h1v1h-1zM317.8 418h2v1h-2zM320.8 418h1v1h-1zM322.8 418h2v1h-2zM328.8 418h2v1h-2zM331.8 418h1v1h-1zM342.8 418h1v1h-1zM317.8 419h1v1h-1zM322.8 419h1v1h-1zM332.8 419h2v1h-2zM338.8 419h1v1h-1zM317.8 420h2v1h-2zM320.8 420h1v1h-1zM324.8 420h1v1h-1zM330.8 420h1v1h-1zM333.8 420h1v1h-1zM335.8 420h1v1h-1zM344.8 420h1v1h-1zM346.8 420h1v1h-1zM324.8 421h1v1h-1zM326.8 421h1v1h-1zM328.8 421h1v1h-1zM330.8 421h1v1h-1zM346.8 421h1v1h-1zM319.8 422h1v1h-1zM322.8 422h1v1h-1zM324.8 422h2v1h-2zM327.8 422h1v1h-1zM336.8 422h1v1h-1zM319.8 423h2v1h-2zM326.8 423h1v1h-1zM328.8 423h1v1h-1zM332.8 423h1v1h-1zM335.8 423h1v1h-1zM338.8 423h1v1h-1zM346.8 423h1v1h-1zM319.8 424h2v1h-2zM323.8 424h2v1h-2zM329.8 424h1v1h-1zM332.8 424h1v1h-1zM338.8 424h1v1h-1zM340.8 424h1v1h-1zM343.8 424h1v1h-1zM323.8 425h2v1h-2zM326.8 425h1v1h-1zM329.8 425h1v1h-1zM336.8 425h1v1h-1zM340.8 425h1v1h-1zM317.8 426h1v1h-1zM320.8 426h1v1h-1zM327.8 426h1v1h-1zM317.8 427h2v1h-2zM326.8 427h1v1h-1zM342.8 427h1v1h-1zM349.8 427h1v1h-1zM318.8 428h1v1h-1zM320.8 428h1v1h-1zM331.8 428h1v1h-1zM351.8 428h1v1h-1zM318.8 429h2v1h-2zM328.8 429h2v1h-2zM320.8 430h1v1h-1zM326.8 430h1v1h-1zM331.8 430h2v1h-2zM337.8 430h1v1h-1zM345.8 430h1v1h-1z" fill="#A432CC"/>
<rect x="430.4" y="381.0" width="1.3" height="1.3" fill="#A432CC"/>
<rect x="434.8" y="381.9" width="1.3" height="1.3" fill="#A432CC"/>
<rect x="440.2" y="384.2" width="1.3" height="1.3" fill="#A432CC"/>
<rect x="430.4" y="387.1" width="1.3" height="1.3" fill="#A432CC"/>
<rect x="446.0" y="388.5" width="1.3" height="1.3" fill="#A432CC"/>
<rect x="452.1" y="390.6" width="1.3" height="1.3" fill="#A432CC"/>
<rect x="442.7" y="391.0" width="1.3" height="1.3" fill="#A432CC"/>
<rect x="423.1" y="392.3" width="1.3" height="1.3" fill="#A432CC"/>
<rect x="429.6" y="393.3" width="1.3" height="1.3" fill="#A432CC"/>
<rect x="434.2" y="394.8" width="1.3" height="1.3" fill="#A432CC"/>
<rect x="440.6" y="394.2" width="1.3" height="1.3" fill="#A432CC"/>
<rect x="404.0" y="393.8" width="1.3" height="1.3" fill="#A432CC"/>
<rect x="441.5" y="396.7" width="1.3" height="1.3" fill="#A432CC"/>
<rect x="436.7" y="397.7" width="1.3" height="1.3" fill="#A432CC"/>
<rect x="430.0" y="397.7" width="1.3" height="1.3" fill="#A432CC"/>
<rect x="438.7" y="398.7" width="1.3" height="1.3" fill="#A432CC"/>
<rect x="443.5" y="401.5" width="1.3" height="1.3" fill="#A432CC"/>
<rect x="430.4" y="401.5" width="1.3" height="1.3" fill="#A432CC"/>
<rect x="426.2" y="402.1" width="1.3" height="1.3" fill="#A432CC"/>
<rect x="415.6" y="402.5" width="1.3" height="1.3" fill="#A432CC"/>
<rect x="411.7" y="402.1" width="1.3" height="1.3" fill="#A432CC"/>
<rect x="403.7" y="401.2" width="1.3" height="1.3" fill="#A432CC"/>
<rect x="439.6" y="402.5" width="1.3" height="1.3" fill="#A432CC"/>
<rect x="428.0" y="403.8" width="1.3" height="1.3" fill="#A432CC"/>
<rect x="414.6" y="405.0" width="1.3" height="1.3" fill="#A432CC"/>
<rect x="443.0" y="404.4" width="1.3" height="1.3" fill="#A432CC"/>
<rect x="419.4" y="407.3" width="1.3" height="1.3" fill="#A432CC"/>
<rect x="406.0" y="407.3" width="1.3" height="1.3" fill="#A432CC"/>
<rect x="446.9" y="407.3" width="1.3" height="1.3" fill="#A432CC"/>
<rect x="421.3" y="409.2" width="1.3" height="1.3" fill="#A432CC"/>
<rect x="406.9" y="411.5" width="1.3" height="1.3" fill="#A432CC"/>
<rect x="420.4" y="413.1" width="1.3" height="1.3" fill="#A432CC"/>
<rect x="421.3" y="414.6" width="1.3" height="1.3" fill="#A432CC"/>
<rect x="435.2" y="416.9" width="1.3" height="1.3" fill="#A432CC"/>
<rect x="459.8" y="376.9" width="1.3" height="1.3" fill="#A432CC"/>
<rect x="393.5" y="386.2" width="1.3" height="1.3" fill="#A432CC"/>
<rect x="380.6" y="373.7" width="1.3" height="1.3" fill="#A432CC"/>
<rect x="350.6" y="360.0" width="1.3" height="1.3" fill="#A432CC"/>
<rect x="348.3" y="371.5" width="1.3" height="1.3" fill="#A432CC"/>
<rect x="349.7" y="377.0" width="1.3" height="1.3" fill="#A432CC"/>
<rect x="334.3" y="376.0" width="1.3" height="1.3" fill="#A432CC"/>
<rect x="380.4" y="373.7" width="1.3" height="1.3" fill="#A432CC"/>
<rect x="357.5" y="392.0" width="1.3" height="1.3" fill="#A432CC"/>
<rect x="362.0" y="396.0" width="1.3" height="1.3" fill="#A432CC"/>
<rect x="365.0" y="388.0" width="1.3" height="1.3" fill="#A432CC"/>
<rect x="358.0" y="402.0" width="1.3" height="1.3" fill="#A432CC"/>
<rect x="360.0" y="409.0" width="1.3" height="1.3" fill="#A432CC"/></g>
<line x1="357.20" y1="303.50" x2="357.20" y2="484.20" stroke="#969696" stroke-width="1.4"/>
<line x1="316.60" y1="433.90" x2="508.40" y2="433.90" stroke="#a8a8a8" stroke-width="1.8"/>
<line x1="316.10" y1="303.50" x2="508.90" y2="303.50" stroke="#111" stroke-width="1.1"/>
<line x1="316.10" y1="484.50" x2="508.90" y2="484.50" stroke="#111" stroke-width="1.1"/>
<line x1="316.50" y1="303.50" x2="316.50" y2="484.20" stroke="#111" stroke-width="1.1"/>
<line x1="508.50" y1="303.50" x2="508.50" y2="484.20" stroke="#111" stroke-width="1.1"/>
<line x1="307.80" y1="320.50" x2="316.60" y2="320.50" stroke="#111" stroke-width="1.1"/>
<text x="296.80" y="327.10" font-size="12.4" text-anchor="end" fill="#000">10</text>
<text x="297.40" y="321.80" font-size="8.8" text-anchor="start" fill="#000">5</text>
<line x1="307.80" y1="361.50" x2="316.60" y2="361.50" stroke="#111" stroke-width="1.1"/>
<text x="296.80" y="366.00" font-size="12.4" text-anchor="end" fill="#000">10</text>
<text x="297.40" y="360.70" font-size="8.8" text-anchor="start" fill="#000">4</text>
<line x1="307.80" y1="402.50" x2="316.60" y2="402.50" stroke="#111" stroke-width="1.1"/>
<text x="296.80" y="408.00" font-size="12.4" text-anchor="end" fill="#000">10</text>
<text x="297.40" y="402.70" font-size="8.8" text-anchor="start" fill="#000">3</text>
<line x1="307.80" y1="445.50" x2="316.60" y2="445.50" stroke="#111" stroke-width="1.1"/>
<text x="296.80" y="451.00" font-size="12.4" text-anchor="end" fill="#000">10</text>
<text x="297.40" y="445.70" font-size="8.8" text-anchor="start" fill="#000">2</text>
<text x="302.10" y="466.50" font-size="12.4" text-anchor="end" fill="#000">0</text>
<line x1="307.80" y1="460.50" x2="316.60" y2="460.50" stroke="#111" stroke-width="1.0"/>
<line x1="307.80" y1="462.50" x2="316.60" y2="462.50" stroke="#111" stroke-width="1.0"/>
<line x1="307.80" y1="464.50" x2="316.60" y2="464.50" stroke="#111" stroke-width="1.0"/>
<line x1="307.80" y1="484.50" x2="316.60" y2="484.50" stroke="#111" stroke-width="1.1"/>
<line x1="312.00" y1="307.50" x2="316.60" y2="307.50" stroke="#111" stroke-width="1.0"/>
<line x1="312.00" y1="348.50" x2="316.60" y2="348.50" stroke="#111" stroke-width="1.0"/>
<line x1="312.00" y1="389.50" x2="316.60" y2="389.50" stroke="#111" stroke-width="1.0"/>
<line x1="312.00" y1="432.50" x2="316.60" y2="432.50" stroke="#111" stroke-width="1.0"/>
<line x1="312.00" y1="341.50" x2="316.60" y2="341.50" stroke="#111" stroke-width="1.0"/>
<line x1="312.00" y1="382.50" x2="316.60" y2="382.50" stroke="#111" stroke-width="1.0"/>
<line x1="312.00" y1="424.50" x2="316.60" y2="424.50" stroke="#111" stroke-width="1.0"/>
<line x1="312.00" y1="336.50" x2="316.60" y2="336.50" stroke="#111" stroke-width="1.0"/>
<line x1="312.00" y1="377.50" x2="316.60" y2="377.50" stroke="#111" stroke-width="1.0"/>
<line x1="312.00" y1="419.50" x2="316.60" y2="419.50" stroke="#111" stroke-width="1.0"/>
<line x1="312.00" y1="332.50" x2="316.60" y2="332.50" stroke="#111" stroke-width="1.0"/>
<line x1="312.00" y1="373.50" x2="316.60" y2="373.50" stroke="#111" stroke-width="1.0"/>
<line x1="312.00" y1="415.50" x2="316.60" y2="415.50" stroke="#111" stroke-width="1.0"/>
<line x1="312.00" y1="329.50" x2="316.60" y2="329.50" stroke="#111" stroke-width="1.0"/>
<line x1="312.00" y1="370.50" x2="316.60" y2="370.50" stroke="#111" stroke-width="1.0"/>
<line x1="312.00" y1="411.50" x2="316.60" y2="411.50" stroke="#111" stroke-width="1.0"/>
<line x1="312.00" y1="326.50" x2="316.60" y2="326.50" stroke="#111" stroke-width="1.0"/>
<line x1="312.00" y1="367.50" x2="316.60" y2="367.50" stroke="#111" stroke-width="1.0"/>
<line x1="312.00" y1="408.50" x2="316.60" y2="408.50" stroke="#111" stroke-width="1.0"/>
<line x1="312.00" y1="324.50" x2="316.60" y2="324.50" stroke="#111" stroke-width="1.0"/>
<line x1="312.00" y1="365.50" x2="316.60" y2="365.50" stroke="#111" stroke-width="1.0"/>
<line x1="312.00" y1="406.50" x2="316.60" y2="406.50" stroke="#111" stroke-width="1.0"/>
<line x1="312.00" y1="321.50" x2="316.60" y2="321.50" stroke="#111" stroke-width="1.0"/>
<line x1="312.00" y1="363.50" x2="316.60" y2="363.50" stroke="#111" stroke-width="1.0"/>
<line x1="312.00" y1="404.50" x2="316.60" y2="404.50" stroke="#111" stroke-width="1.0"/>
<line x1="312.00" y1="447.50" x2="316.60" y2="447.50" stroke="#111" stroke-width="1.0"/>
<line x1="312.00" y1="449.50" x2="316.60" y2="449.50" stroke="#111" stroke-width="1.0"/>
<line x1="312.00" y1="451.50" x2="316.60" y2="451.50" stroke="#111" stroke-width="1.0"/>
<line x1="312.00" y1="452.50" x2="316.60" y2="452.50" stroke="#111" stroke-width="1.0"/>
<line x1="312.00" y1="454.50" x2="316.60" y2="454.50" stroke="#111" stroke-width="1.0"/>
<line x1="312.00" y1="456.50" x2="316.60" y2="456.50" stroke="#111" stroke-width="1.0"/>
<line x1="312.00" y1="459.50" x2="316.60" y2="459.50" stroke="#111" stroke-width="1.0"/>
<line x1="312.00" y1="465.50" x2="316.60" y2="465.50" stroke="#111" stroke-width="1.0"/>
<line x1="312.00" y1="467.50" x2="316.60" y2="467.50" stroke="#111" stroke-width="1.0"/>
<line x1="312.00" y1="470.50" x2="316.60" y2="470.50" stroke="#111" stroke-width="1.0"/>
<line x1="312.00" y1="473.50" x2="316.60" y2="473.50" stroke="#111" stroke-width="1.0"/>
<line x1="312.00" y1="476.50" x2="316.60" y2="476.50" stroke="#111" stroke-width="1.0"/>
<line x1="307.80" y1="478.50" x2="316.60" y2="478.50" stroke="#111" stroke-width="1.0"/>
<line x1="316.50" y1="484.20" x2="316.50" y2="493.40" stroke="#111" stroke-width="1.1"/>
<line x1="326.50" y1="484.20" x2="326.50" y2="493.40" stroke="#111" stroke-width="1.1"/>
<text x="326.50" y="514.8" font-size="12.4" text-anchor="middle">10<tspan dy="-4.9" font-size="8.8">1</tspan></text>
<line x1="362.50" y1="484.20" x2="362.50" y2="493.40" stroke="#111" stroke-width="1.1"/>
<text x="362.80" y="514.8" font-size="12.4" text-anchor="middle">10<tspan dy="-4.9" font-size="8.8">2</tspan></text>
<line x1="405.50" y1="484.20" x2="405.50" y2="493.40" stroke="#111" stroke-width="1.1"/>
<text x="405.40" y="514.8" font-size="12.4" text-anchor="middle">10<tspan dy="-4.9" font-size="8.8">3</tspan></text>
<line x1="447.50" y1="484.20" x2="447.50" y2="493.40" stroke="#111" stroke-width="1.1"/>
<text x="448.10" y="514.8" font-size="12.4" text-anchor="middle">10<tspan dy="-4.9" font-size="8.8">4</tspan></text>
<line x1="490.50" y1="484.20" x2="490.50" y2="493.40" stroke="#111" stroke-width="1.1"/>
<text x="490.80" y="514.8" font-size="12.4" text-anchor="middle">10<tspan dy="-4.9" font-size="8.8">5</tspan></text>
<line x1="334.50" y1="484.20" x2="334.50" y2="489.50" stroke="#111" stroke-width="1.0"/>
<line x1="341.50" y1="484.20" x2="341.50" y2="489.50" stroke="#111" stroke-width="1.0"/>
<line x1="346.50" y1="484.20" x2="346.50" y2="489.50" stroke="#111" stroke-width="1.0"/>
<line x1="349.50" y1="484.20" x2="349.50" y2="489.50" stroke="#111" stroke-width="1.0"/>
<line x1="352.50" y1="484.20" x2="352.50" y2="489.50" stroke="#111" stroke-width="1.0"/>
<line x1="354.50" y1="484.20" x2="354.50" y2="489.50" stroke="#111" stroke-width="1.0"/>
<line x1="359.50" y1="484.20" x2="359.50" y2="489.50" stroke="#111" stroke-width="1.0"/>
<line x1="360.50" y1="484.20" x2="360.50" y2="489.50" stroke="#111" stroke-width="1.0"/>
<line x1="375.50" y1="484.20" x2="375.50" y2="489.50" stroke="#111" stroke-width="1.0"/>
<line x1="382.50" y1="484.20" x2="382.50" y2="489.50" stroke="#111" stroke-width="1.0"/>
<line x1="388.50" y1="484.20" x2="388.50" y2="489.50" stroke="#111" stroke-width="1.0"/>
<line x1="392.50" y1="484.20" x2="392.50" y2="489.50" stroke="#111" stroke-width="1.0"/>
<line x1="395.50" y1="484.20" x2="395.50" y2="489.50" stroke="#111" stroke-width="1.0"/>
<line x1="398.50" y1="484.20" x2="398.50" y2="489.50" stroke="#111" stroke-width="1.0"/>
<line x1="400.50" y1="484.20" x2="400.50" y2="489.50" stroke="#111" stroke-width="1.0"/>
<line x1="403.50" y1="484.20" x2="403.50" y2="489.50" stroke="#111" stroke-width="1.0"/>
<line x1="417.50" y1="484.20" x2="417.50" y2="489.50" stroke="#111" stroke-width="1.0"/>
<line x1="425.50" y1="484.20" x2="425.50" y2="489.50" stroke="#111" stroke-width="1.0"/>
<line x1="430.50" y1="484.20" x2="430.50" y2="489.50" stroke="#111" stroke-width="1.0"/>
<line x1="434.50" y1="484.20" x2="434.50" y2="489.50" stroke="#111" stroke-width="1.0"/>
<line x1="438.50" y1="484.20" x2="438.50" y2="489.50" stroke="#111" stroke-width="1.0"/>
<line x1="441.50" y1="484.20" x2="441.50" y2="489.50" stroke="#111" stroke-width="1.0"/>
<line x1="443.50" y1="484.20" x2="443.50" y2="489.50" stroke="#111" stroke-width="1.0"/>
<line x1="445.50" y1="484.20" x2="445.50" y2="489.50" stroke="#111" stroke-width="1.0"/>
<line x1="460.50" y1="484.20" x2="460.50" y2="489.50" stroke="#111" stroke-width="1.0"/>
<line x1="468.50" y1="484.20" x2="468.50" y2="489.50" stroke="#111" stroke-width="1.0"/>
<line x1="473.50" y1="484.20" x2="473.50" y2="489.50" stroke="#111" stroke-width="1.0"/>
<line x1="477.50" y1="484.20" x2="477.50" y2="489.50" stroke="#111" stroke-width="1.0"/>
<line x1="480.50" y1="484.20" x2="480.50" y2="489.50" stroke="#111" stroke-width="1.0"/>
<line x1="483.50" y1="484.20" x2="483.50" y2="489.50" stroke="#111" stroke-width="1.0"/>
<line x1="486.50" y1="484.20" x2="486.50" y2="489.50" stroke="#111" stroke-width="1.0"/>
<line x1="488.50" y1="484.20" x2="488.50" y2="489.50" stroke="#111" stroke-width="1.0"/>
<line x1="503.50" y1="484.20" x2="503.50" y2="489.50" stroke="#111" stroke-width="1.0"/>
<text x="297.40" y="501.40" font-size="12.2" text-anchor="start" fill="#2E1490" textLength="10.4" lengthAdjust="spacingAndGlyphs">M</text>
<text x="336.00" y="409.00" font-size="12" text-anchor="start" fill="#000" textLength="16.0" lengthAdjust="spacingAndGlyphs">Q1</text>
<text x="379.80" y="409.00" font-size="12" text-anchor="start" fill="#000" textLength="16.6" lengthAdjust="spacingAndGlyphs">Q2</text>
<text x="336.00" y="461.50" font-size="12" text-anchor="start" fill="#000" textLength="16.8" lengthAdjust="spacingAndGlyphs">Q3</text>
<text x="379.80" y="461.50" font-size="12" text-anchor="start" fill="#000" textLength="16.6" lengthAdjust="spacingAndGlyphs">Q4</text>
<text x="430.80" y="363.70" font-size="12" text-anchor="start" fill="#000" textLength="27.0" lengthAdjust="spacingAndGlyphs">3.7%</text>
<text x="399.00" y="293.80" font-size="14" text-anchor="start" fill="#000" textLength="18.4" lengthAdjust="spacingAndGlyphs">LN</text>
<line x1="33.70" y1="316.00" x2="33.70" y2="442.40" stroke="#000" stroke-width="1.3"/>
<path d="M33.7,309.2 L37.4,317.8 L33.7,316.0 L30.0,317.8 Z" fill="#000"/>
<text transform="translate(38.6,462.7) rotate(-90)" font-size="16.2" text-anchor="middle" textLength="29.3" lengthAdjust="spacingAndGlyphs">CD19</text>
<text x="75.6" y="536.3" font-size="14.4" text-anchor="start" font-weight="normal" fill="#000" textLength="30.0" lengthAdjust="spacingAndGlyphs">sTLR9</text>
<line x1="111.00" y1="531.20" x2="495.00" y2="531.20" stroke="#000" stroke-width="1.3"/>
<path d="M502.2,531.2 L492.8,527.4 L494.6,531.2 L492.8,535.0 Z" fill="#000"/>
<text x="11.2" y="579.7" font-size="18" text-anchor="start" font-weight="bold" fill="#000">D</text>
<line x1="71.00" y1="586.50" x2="71.00" y2="802.40" stroke="#000" stroke-width="1.9"/>
<line x1="66.50" y1="591.00" x2="71.00" y2="591.00" stroke="#000" stroke-width="1.4"/>
<text x="61.4" y="595.1" font-size="11.8" text-anchor="end" font-weight="normal" fill="#000">40</text>
<line x1="66.50" y1="643.85" x2="71.00" y2="643.85" stroke="#000" stroke-width="1.4"/>
<text x="61.4" y="647.9499999999999" font-size="11.8" text-anchor="end" font-weight="normal" fill="#000">30</text>
<line x1="66.50" y1="696.70" x2="71.00" y2="696.70" stroke="#000" stroke-width="1.4"/>
<text x="61.4" y="700.8" font-size="11.8" text-anchor="end" font-weight="normal" fill="#000">20</text>
<line x1="66.50" y1="749.55" x2="71.00" y2="749.55" stroke="#000" stroke-width="1.4"/>
<text x="61.4" y="753.65" font-size="11.8" text-anchor="end" font-weight="normal" fill="#000">10</text>
<line x1="66.50" y1="802.40" x2="71.00" y2="802.40" stroke="#000" stroke-width="1.4"/>
<text x="61.4" y="806.5" font-size="11.8" text-anchor="end" font-weight="normal" fill="#000">0</text>
<line x1="70.10" y1="802.30" x2="312.80" y2="802.30" stroke="#000" stroke-width="1.8"/>
<line x1="139.70" y1="802.30" x2="139.70" y2="806.40" stroke="#000" stroke-width="1.2"/>
<line x1="243.50" y1="802.30" x2="243.50" y2="806.40" stroke="#000" stroke-width="1.2"/>
<text transform="translate(37.6,756.0) rotate(-90)" font-size="15" stroke="#000" stroke-width="0.1" textLength="9.8" lengthAdjust="spacingAndGlyphs">%</text>
<text transform="translate(37.6,743.6) rotate(-90)" font-size="15" stroke="#000" stroke-width="0.1" textLength="37.6" lengthAdjust="spacingAndGlyphs">splenic</text>
<text transform="translate(37.6,703.6) rotate(-90)" font-size="15" stroke="#000" stroke-width="0.1" textLength="68.2" lengthAdjust="spacingAndGlyphs">engraftment</text>
<path d="M139.7,626.3 L139.7,614 L243.6,614 L243.6,784.8" fill="none" stroke="#000" stroke-width="1.3"/>
<text x="166.0" y="606.2" font-size="11.8" text-anchor="start" font-weight="normal" fill="#000" textLength="51.8" lengthAdjust="spacingAndGlyphs">P = 0.018</text>
<line x1="105.40" y1="748.80" x2="174.30" y2="748.80" stroke="#000" stroke-width="1.3"/>
<circle cx="131.30" cy="639.00" r="4.1" fill="#C40028"/>
<circle cx="148.30" cy="645.40" r="4.1" fill="#C40028"/>
<circle cx="139.70" cy="670.10" r="4.1" fill="#C40028"/>
<circle cx="139.70" cy="721.10" r="4.1" fill="#C40028"/>
<circle cx="139.70" cy="736.00" r="4.1" fill="#C40028"/>
<circle cx="114.60" cy="784.50" r="4.1" fill="#C40028"/>
<circle cx="114.60" cy="793.50" r="4.1" fill="#C40028"/>
<circle cx="114.60" cy="801.80" r="4.1" fill="#C40028"/>
<circle cx="131.30" cy="782.70" r="4.1" fill="#C40028"/>
<circle cx="148.10" cy="776.70" r="4.1" fill="#C40028"/>
<circle cx="148.10" cy="801.80" r="4.1" fill="#C40028"/>
<circle cx="165.10" cy="783.90" r="4.1" fill="#C40028"/>
<circle cx="165.10" cy="794.80" r="4.1" fill="#C40028"/>
<circle cx="213.50" cy="801.60" r="3.9" fill="#0F4B87"/>
<circle cx="221.10" cy="797.20" r="3.9" fill="#0F4B87"/>
<circle cx="228.60" cy="801.80" r="3.9" fill="#0F4B87"/>
<circle cx="236.00" cy="799.60" r="3.9" fill="#0F4B87"/>
<circle cx="243.60" cy="802.40" r="3.9" fill="#0F4B87"/>
<circle cx="251.10" cy="801.80" r="3.9" fill="#0F4B87"/>
<circle cx="258.80" cy="801.80" r="3.9" fill="#0F4B87"/>
<circle cx="266.40" cy="801.80" r="3.9" fill="#0F4B87"/>
<circle cx="274.20" cy="801.80" r="3.9" fill="#0F4B87"/>
<line x1="243.50" y1="803.50" x2="243.50" y2="806.60" stroke="#000" stroke-width="1.2"/>
<text x="121.4" y="827.4" font-size="12" textLength="28.6" lengthAdjust="spacingAndGlyphs">TLR9</text>
<text x="150.0" y="822.9" font-size="9" textLength="8.2" lengthAdjust="spacingAndGlyphs">hi</text>
<text x="225.2" y="827.2" font-size="12" textLength="28.0" lengthAdjust="spacingAndGlyphs">TLR9</text>
<text x="253.0" y="822.6" font-size="9" textLength="8.6" lengthAdjust="spacingAndGlyphs">lo</text>
<circle cx="321.90" cy="598.00" r="4.2" fill="#C40028"/>
<circle cx="321.90" cy="615.40" r="4.2" fill="#0F4B87"/>
<text x="330.8" y="601.5" font-size="11.2" textLength="26.2" lengthAdjust="spacingAndGlyphs">TLR9</text>
<text x="357.0" y="596.6" font-size="8.6" textLength="8.0" lengthAdjust="spacingAndGlyphs">hi</text>
<text x="330.8" y="618.6" font-size="11.2" textLength="26.2" lengthAdjust="spacingAndGlyphs">TLR9</text>
<text x="357.0" y="613.6" font-size="8.6" textLength="8.0" lengthAdjust="spacingAndGlyphs">lo</text>
</svg>
<div class="frame"></div>
</body></html>
